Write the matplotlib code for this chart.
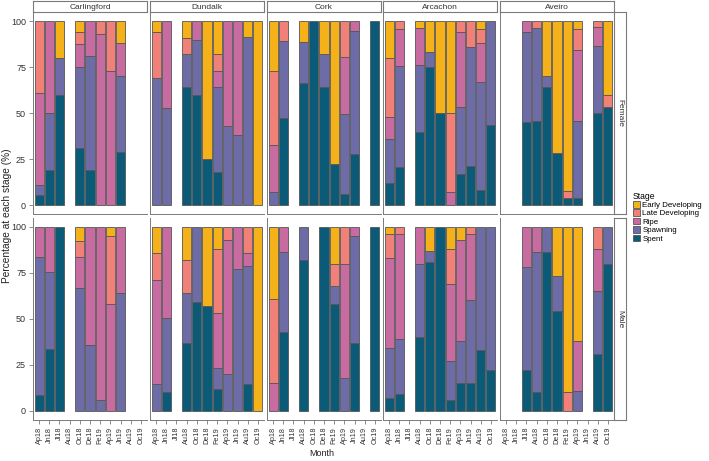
import matplotlib.pyplot as plt
from matplotlib.patches import Patch

plt.rcParams['font.family'] = ['Liberation Sans', 'DejaVu Sans']

# x categories (sampling months)
months = ["Ap18", "Jn18", "Jl18", "Au18", "Oc18", "De18", "Fe19", "Ap19", "Jn19", "Au19", "Oc19"]
sites = ["Carlingford", "Dundalk", "Cork", "Arcachon", "Aveiro"]
sexes = ["Female", "Male"]

# stacking order bottom -> top
stages = ["Spent", "Spawning", "Ripe", "Late Developing", "Early Developing"]
stage_colors = ["#0b5b78", "#6d6ca6", "#c86ba0", "#f08078", "#f5b11a"]

# rows: month, Spent, Spawning, Ripe, Late Developing, Early Developing  (%)
carlingford_f = [
    ("Ap18", 5.5, 5.5, 50, 39, 0),
    ("Jn18", 19, 31, 50, 0, 0),
    ("Jl18", 60, 20, 0, 0, 20),
    ("Oc18", 31, 44, 12.5, 6.5, 6),
    ("De18", 19, 62, 19, 0, 0),
    ("Fe19", 0, 0, 93, 7, 0),
    ("Ap19", 0, 0, 73, 27, 0),
    ("Jn19", 29, 41.5, 17.5, 0, 12),
]
carlingford_m = [
    ("Ap18", 8.5, 75, 16.5, 0, 0),
    ("Jn18", 33.5, 42, 24.5, 0, 0),
    ("Jl18", 100, 0, 0, 0, 0),
    ("Oc18", 0, 66.5, 17, 8.5, 8),
    ("De18", 0, 36, 64, 0, 0),
    ("Fe19", 0, 6, 94, 0, 0),
    ("Ap19", 0, 0, 58, 37, 5),
    ("Jn19", 0, 64, 36, 0, 0),
]
dundalk_f = [
    ("Ap18", 0, 69, 0, 25, 6),
    ("Jn18", 0, 53, 47, 0, 0),
    ("Au18", 64, 18, 0, 9, 9),
    ("Oc18", 60, 30, 10, 0, 0),
    ("De18", 25, 0, 0, 0, 75),
    ("Fe19", 18, 46, 9, 9, 18),
    ("Ap19", 0, 43, 57, 0, 0),
    ("Jn19", 0, 38, 62, 0, 0),
    ("Au19", 0, 91.5, 0, 0, 8.5),
    ("Oc19", 0, 0, 0, 0, 100),
]
dundalk_m = [
    ("Ap18", 0, 14.5, 56.5, 14.5, 14.5),
    ("Jn18", 10, 40.5, 49.5, 0, 0),
    ("Au18", 37, 27, 0, 18, 18),
    ("Oc18", 59, 41, 0, 0, 0),
    ("De18", 57, 0, 0, 0, 43),
    ("Fe19", 12, 11.5, 29.5, 35, 12),
    ("Ap19", 0, 20, 73, 7, 0),
    ("Jn19", 0, 77, 23, 0, 0),
    ("Au19", 14.5, 64, 7, 14.5, 0),
    ("Oc19", 0, 0, 0, 0, 100),
]
cork_f = [
    ("Ap18", 0, 7, 26, 40, 27),
    ("Jn18", 47.5, 42, 0, 10.5, 0),
    ("Au18", 66.5, 22, 0, 0, 11.5),
    ("Oc18", 100, 0, 0, 0, 0),
    ("De18", 64, 18, 0, 0, 18),
    ("Fe19", 22.5, 0, 0, 0, 77.5),
    ("Ap19", 6, 43.5, 31, 19.5, 0),
    ("Jn19", 28, 66.5, 5.5, 0, 0),
    ("Oc19", 100, 0, 0, 0, 0),
]
cork_m = [
    ("Ap18", 0, 0, 15, 46, 39),
    ("Jn18", 43, 43, 14, 0, 0),
    ("Au18", 82, 18, 0, 0, 0),
    ("De18", 100, 0, 0, 0, 0),
    ("Fe19", 58, 10, 0, 12, 20),
    ("Ap19", 0, 18, 62, 20, 0),
    ("Jn19", 37, 58, 5, 0, 0),
    ("Oc19", 100, 0, 0, 0, 0),
]
arcachon_f = [
    ("Ap18", 12, 24, 12, 32, 20),
    ("Jn18", 21, 54.5, 20.5, 4, 0),
    ("Au18", 40, 36, 20.5, 0, 3.5),
    ("Oc18", 75, 8.5, 0, 0, 16.5),
    ("De18", 50, 0, 0, 0, 50),
    ("Fe19", 0, 0, 7, 43, 50),
    ("Ap19", 17, 36.5, 40.5, 6, 0),
    ("Jn19", 21.5, 64.5, 0, 14, 0),
    ("Au19", 8.5, 58.5, 21, 8, 4),
    ("Oc19", 43.5, 56.5, 0, 0, 0),
]
arcachon_m = [
    ("Ap18", 7, 27, 49, 13, 4),
    ("Jn18", 9, 30, 57, 4, 0),
    ("Au18", 40, 40, 20, 0, 0),
    ("Oc18", 81, 6, 0, 0, 13),
    ("De18", 100, 0, 0, 0, 0),
    ("Fe19", 6, 21, 42, 19, 12),
    ("Ap19", 15, 23, 55, 0, 7),
    ("Jn19", 15, 45, 36, 4, 0),
    ("Au19", 33, 67, 0, 0, 0),
    ("Oc19", 22, 78, 0, 0, 0),
]
aveiro_f = [
    ("Jl18", 45.5, 48.5, 6, 0, 0),
    ("Au18", 46, 50.5, 0, 3.5, 0),
    ("Oc18", 64.5, 6, 0, 0, 29.5),
    ("De18", 28.5, 0, 0, 0, 71.5),
    ("Fe19", 4, 0, 0, 4, 92),
    ("Ap19", 4, 42, 38.5, 11.5, 4),
    ("Au19", 50, 36.5, 10.5, 3, 0),
    ("Oc19", 53.5, 0, 0, 6.5, 40),
]
aveiro_m = [
    ("Jl18", 22, 56, 22, 0, 0),
    ("Au18", 10, 76, 14, 0, 0),
    ("Oc18", 86, 14, 0, 0, 0),
    ("De18", 54, 19, 0, 0, 27),
    ("Fe19", 0, 0, 0, 10, 90),
    ("Ap19", 0, 11, 27, 0, 62),
    ("Au19", 31, 34, 23, 12, 0),
    ("Oc19", 80, 20, 0, 0, 0),
]

panel_data = {
    ("Carlingford", "Female"): carlingford_f, ("Carlingford", "Male"): carlingford_m,
    ("Dundalk", "Female"): dundalk_f, ("Dundalk", "Male"): dundalk_m,
    ("Cork", "Female"): cork_f, ("Cork", "Male"): cork_m,
    ("Arcachon", "Female"): arcachon_f, ("Arcachon", "Male"): arcachon_m,
    ("Aveiro", "Female"): aveiro_f, ("Aveiro", "Male"): aveiro_m,
}

W, H = 709, 461
fig = plt.figure(figsize=(W / 100, H / 100), dpi=100)

def box(x0, y0, x1, y1):
    # pixel box (top-left origin) -> figure fraction rect
    return [x0 / W, 1 - y1 / H, (x1 - x0) / W, (y1 - y0) / H]

line_col = "#7a7a7a"
text_col = "#333333"
col_x = [33, 150, 267, 383, 500]
pw = 114
row_y = [(12, 214.5), (217.5, 420)]

for r, sex in enumerate(sexes):
    y0, y1 = row_y[r]
    for c, site in enumerate(sites):
        ax = fig.add_axes(box(col_x[c], y0, col_x[c] + pw, y1))
        rows = panel_data[(site, sex)]
        xs = [months.index(row[0]) for row in rows]
        bottoms = [0.0] * len(rows)
        for k, st in enumerate(stages):
            vals = [row[k + 1] for row in rows]
            for i, v in enumerate(vals):
                if v > 0:
                    ax.bar(xs[i], v, bottom=bottoms[i], width=0.9, color=stage_colors[k],
                           edgecolor="#555555", linewidth=0.6)
                bottoms[i] += v
        ax.set_xlim(-0.6, len(months) - 0.4)
        ax.set_ylim(-5, 105)
        for s in ["top", "right"]:
            ax.spines[s].set_visible(False)
        for s in ["left", "bottom"]:
            ax.spines[s].set_color(line_col)
            ax.spines[s].set_linewidth(0.7)
        ax.tick_params(colors=line_col, length=3, width=0.6)
        ax.set_yticks([0, 25, 50, 75, 100])
        ax.set_xticks(range(len(months)))
        if c == 0:
            ax.set_yticklabels(["0", "25", "50", "75", "100"], fontsize=6.5, color=text_col)
            ax.tick_params(axis="y", pad=2)
        else:
            ax.tick_params(axis="y", left=False, labelleft=False)
        if r == 1:
            ax.set_xticklabels(months, rotation=90, fontsize=5.2, color=text_col)
            ax.tick_params(axis="x", pad=2)
        else:
            ax.tick_params(axis="x", bottom=False, labelbottom=False)
        ax.patch.set_alpha(0)

        if r == 0:
            sax = fig.add_axes(box(col_x[c], 1, col_x[c] + pw, 12))
            sax.set_xticks([]); sax.set_yticks([])
            for s in sax.spines.values():
                s.set_color(line_col); s.set_linewidth(0.8)
            sax.text(0.5, 0.45, site, ha="center", va="center", fontsize=6, color=text_col,
                     transform=sax.transAxes)

    rax = fig.add_axes(box(614, y0, 626, y1))
    rax.set_xticks([]); rax.set_yticks([])
    for s in rax.spines.values():
        s.set_color(line_col); s.set_linewidth(0.8)
    rax.text(0.5, 0.5, sex, ha="center", va="center", rotation=-90, fontsize=6, color=text_col,
             transform=rax.transAxes)

fig.text(7 / W, 1 - 216 / H, "Percentage at each stage (%)", rotation=90, ha="center", va="center",
         fontsize=7.3, color="#222222")
fig.text(322 / W, 1 - 453 / H, "Month", ha="center", va="center", fontsize=6.5, color="#222222")

handles = [Patch(facecolor=stage_colors[k], edgecolor="#555555", linewidth=0.6, label=stages[k])
           for k in range(len(stages) - 1, -1, -1)]
leg = fig.legend(handles=handles, title="Stage", loc="upper left", bbox_to_anchor=(627 / W, 1 - 186 / H),
                 frameon=False, fontsize=5.7, title_fontsize=6.2, handlelength=0.9, handleheight=0.9,
                 labelspacing=0.05, handletextpad=0.35, borderpad=0.2)
leg._legend_box.align = "left"

fig.savefig("out.png", dpi=100, facecolor="white")
